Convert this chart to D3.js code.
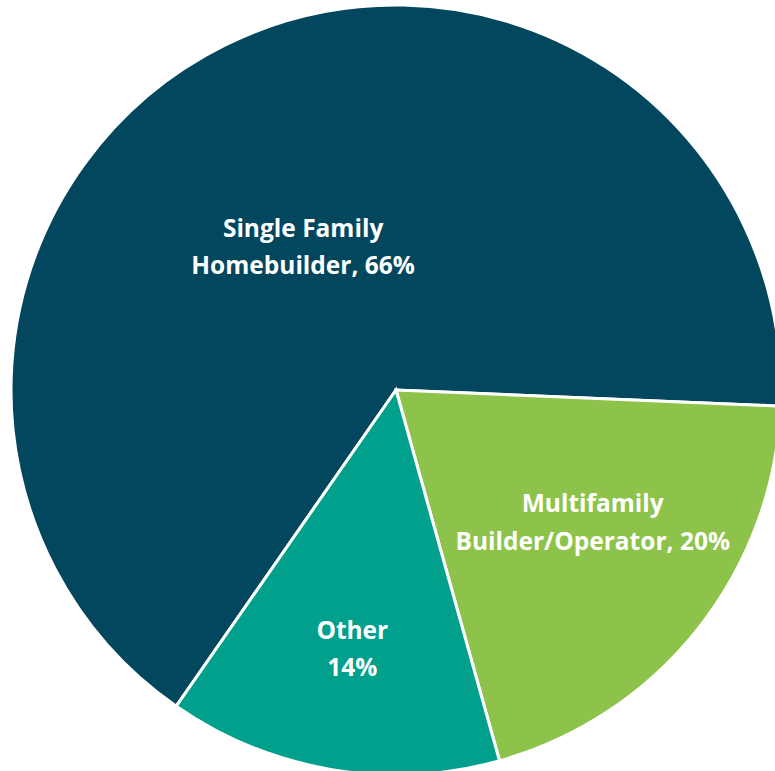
<!DOCTYPE html>
<html>
<head>
<meta charset="utf-8">
<script src="https://cdn.jsdelivr.net/npm/d3@7"></script>
<style>
  html, body { margin: 0; padding: 0; background: #ffffff; }
  svg { display: block; }
</style>
</head>
<body>
<svg id="chart" width="775" height="771"></svg>
<script>
// Share of respondents by builder type
const categories = ["Single Family Homebuilder", "Multifamily Builder/Operator", "Other"];
const shares = [66, 20, 14];
const labelLines = [
  ["Single Family", "Homebuilder, 66%"],
  ["Multifamily", "Builder/Operator, 20%"],
  ["Other", "14%"]
];
const colors = ["#03475f", "#8dc34a", "#00a08c"];

const width = 775, height = 771;
const cx = 396, cy = 390, radius = 385;

// Label placement: polar offset from the pie centre (degrees clockwise from 12 o'clock, px)
const labelPlacement = [
  { angle: 327.1, dist: 171 },
  { angle: 123.9, dist: 237 },
  { angle: 189.6, dist: 262 }
];

const svg = d3.select("#chart");
const g = svg.append("g").attr("transform", `translate(${cx},${cy})`);

const data = categories.map((c, i) => ({ category: c, value: shares[i], idx: i }));

// First slice begins so that the multifamily slice starts just below 3 o'clock
const start = (214.8 - 360) * Math.PI / 180;
const pie = d3.pie()
  .value(d => d.value)
  .sort(null)
  .startAngle(start)
  .endAngle(start + 2 * Math.PI);

const arc = d3.arc().innerRadius(0).outerRadius(radius);

g.selectAll("path.slice")
  .data(pie(data))
  .join("path")
  .attr("class", "slice")
  .attr("d", arc)
  .attr("fill", d => colors[d.data.idx])
  .attr("stroke", "#ffffff")
  .attr("stroke-width", 3)
  .attr("stroke-linejoin", "miter");

const lineHeight = 37.5;
const labels = g.selectAll("text.lbl")
  .data(pie(data))
  .join("text")
  .attr("class", "lbl")
  .attr("text-anchor", "middle")
  .attr("fill", "#ffffff")
  .style("font-family", "'Open Sans', sans-serif")
  .style("font-weight", "700")
  .style("font-size", "24.5px")
  .attr("transform", d => {
    const p = labelPlacement[d.data.idx];
    const a = p.angle * Math.PI / 180;
    return `translate(${p.dist * Math.sin(a)},${-p.dist * Math.cos(a)})`;
  });

labels.each(function(d) {
  const lines = labelLines[d.data.idx];
  const t = d3.select(this);
  lines.forEach((ln, j) => {
    t.append("tspan")
      .attr("x", 0)
      .attr("y", (j - (lines.length - 1) / 2) * lineHeight + 9)
      .text(ln);
  });
});
</script>
</body>
</html>
